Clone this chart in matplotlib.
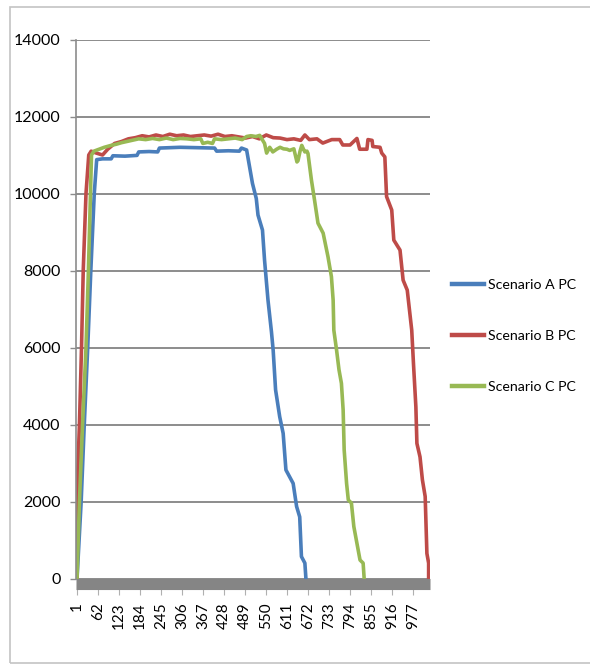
import matplotlib
matplotlib.use("Agg")
from matplotlib import pyplot as plt
from matplotlib.patches import Rectangle

# run index (category) and value for each scenario, read as polyline vertices
cats_a = [1, 13, 22, 32, 41, 51, 58, 75, 100, 105, 140, 175, 180, 210, 235, 240, 300, 350, 400, 406,
          440, 472, 478, 493, 510, 521, 526, 539, 545, 555, 565, 570, 577, 589, 599, 607, 628, 638, 647, 652,
          662, 665]
vals_a = [0, 2000, 4000, 6000, 8000, 10000, 10880, 10900, 10900, 10980, 10970, 10990, 11080, 11090, 11080, 11180, 11200, 11190, 11180, 11100,
          11110, 11100, 11180, 11130, 10260, 9870, 9440, 9050, 8270, 7230, 6410, 5930, 4900, 4200, 3770, 2820, 2470, 1870, 1600, 570,
          400, 0]

cats_b = [1, 2, 8, 14, 19, 27, 35, 42, 57, 75, 90, 110, 130, 150, 170, 190, 210, 230, 250, 270,
          290, 310, 330, 350, 370, 390, 410, 430, 450, 470, 490, 510, 530, 550, 570, 590, 610, 630, 650, 662,
          675, 697, 714, 740, 763, 772, 793, 813, 821, 842, 845, 857, 859, 880, 885, 894, 899, 914, 920, 938,
          947, 959, 972, 977, 984, 987, 996, 1003, 1011, 1016, 1021, 1021]
vals_b = [0, 2500, 4000, 6000, 8000, 10000, 11000, 11100, 11050, 11000, 11150, 11300, 11350, 11420, 11450, 11500, 11470, 11520, 11480, 11540,
          11500, 11520, 11480, 11500, 11520, 11490, 11540, 11480, 11500, 11470, 11440, 11480, 11420, 11520, 11450, 11440, 11400, 11420, 11380, 11520,
          11400, 11420, 11310, 11400, 11400, 11260, 11260, 11430, 11150, 11150, 11400, 11380, 11220, 11200, 11050, 10950, 9920, 9570, 8790, 8530,
          7750, 7490, 6450, 5590, 4460, 3510, 3160, 2560, 2130, 650, 400, 0]

cats_c = [1, 8, 17, 27, 34, 40, 43, 50, 65, 80, 100, 115, 130, 145, 160, 180, 200, 220, 240, 260,
          280, 300, 320, 340, 360, 366, 380, 394, 400, 420, 440, 460, 480, 493, 505, 520, 531, 545, 551, 560,
          569, 580, 590, 600, 610, 618, 630, 639, 642, 648, 653, 658, 662, 668, 671, 681, 690, 700, 715, 729,
          739, 744, 746, 754, 761, 768, 773, 776, 783, 788, 797, 804, 822, 831, 834]
vals_c = [0, 2000, 4000, 6000, 8000, 10000, 11000, 11100, 11150, 11200, 11250, 11280, 11320, 11350, 11380, 11420, 11400, 11430, 11400, 11440,
          11400, 11430, 11420, 11400, 11420, 11300, 11330, 11300, 11420, 11400, 11420, 11440, 11400, 11480, 11500, 11480, 11510, 11300, 11050, 11200,
          11080, 11150, 11200, 11160, 11150, 11120, 11160, 10820, 10850, 11100, 11250, 11150, 11080, 11100, 11040, 10350, 9830, 9230, 8970, 8360,
          7840, 7230, 6450, 5930, 5420, 5070, 4380, 3340, 2470, 2040, 1960, 1350, 480, 400, 0]

series_names = ["Scenario A PC", "Scenario B PC", "Scenario C PC"]
series_colors = ["#4a7ebb", "#be4b48", "#98b954"]

x_ticks = list(range(1, 1000, 61))
y_ticks = [0, 2000, 4000, 6000, 8000, 10000, 12000, 14000]

plt.rcParams['font.family'] = ['Lato', 'DejaVu Sans']

W, H = 590, 665
fig = plt.figure(figsize=(W / 100, H / 100), dpi=100)
# chart area border
fig.patches.append(Rectangle((10 / W, 1 - 663 / H), 1.0, (663 - 7) / H, transform=fig.transFigure,
                             fill=False, edgecolor="#c4c4c4", linewidth=1.2))

ax = fig.add_axes([76 / W, 1 - 578.5 / H, (430 - 76) / W, (578.5 - 39.5) / H])

for c, v, name, col in zip([cats_a, cats_b, cats_c], [vals_a, vals_b, vals_c], series_names, series_colors):
    ax.plot(c, v, color=col, lw=2.6, label=name, solid_joinstyle="round")

ax.set_xlim(-2, 1025)
ax.set_ylim(0, 14000)
ax.set_yticks(y_ticks)
ax.set_yticklabels([str(t) for t in y_ticks])
ax.set_xticks(x_ticks)
ax.set_xticklabels([str(t) for t in x_ticks])

ax.yaxis.grid(True, color="#8c8c8c", lw=1.4)
ax.set_axisbelow(True)

for s in ["top", "right"]:
    ax.spines[s].set_visible(False)
ax.spines["left"].set_color("#8c8c8c")
ax.spines["left"].set_linewidth(1.2)
# thick grey category axis under the zero line
ax.spines["bottom"].set_position(("outward", 4))
ax.spines["bottom"].set_linewidth(8)
ax.spines["bottom"].set_color("#858585")
ax.spines["bottom"].set_capstyle("butt")

ax.tick_params(axis="y", length=4, width=1, color="#8c8c8c", pad=7, labelsize=11.5)
ax.tick_params(axis="x", length=8, width=0.8, color="#b0b0b0", pad=5, labelsize=11,
               labelrotation=90)

leg = ax.legend(loc="center left", bbox_to_anchor=(452 / W, 1 - 336 / H), bbox_transform=fig.transFigure,
                frameon=False, fontsize=10.2, handlelength=2.25, handletextpad=0.3,
                labelspacing=2.75, borderpad=0, borderaxespad=0)
for h in leg.get_lines():
    h.set_linewidth(3.2)

fig.savefig("out.png", dpi=100)
